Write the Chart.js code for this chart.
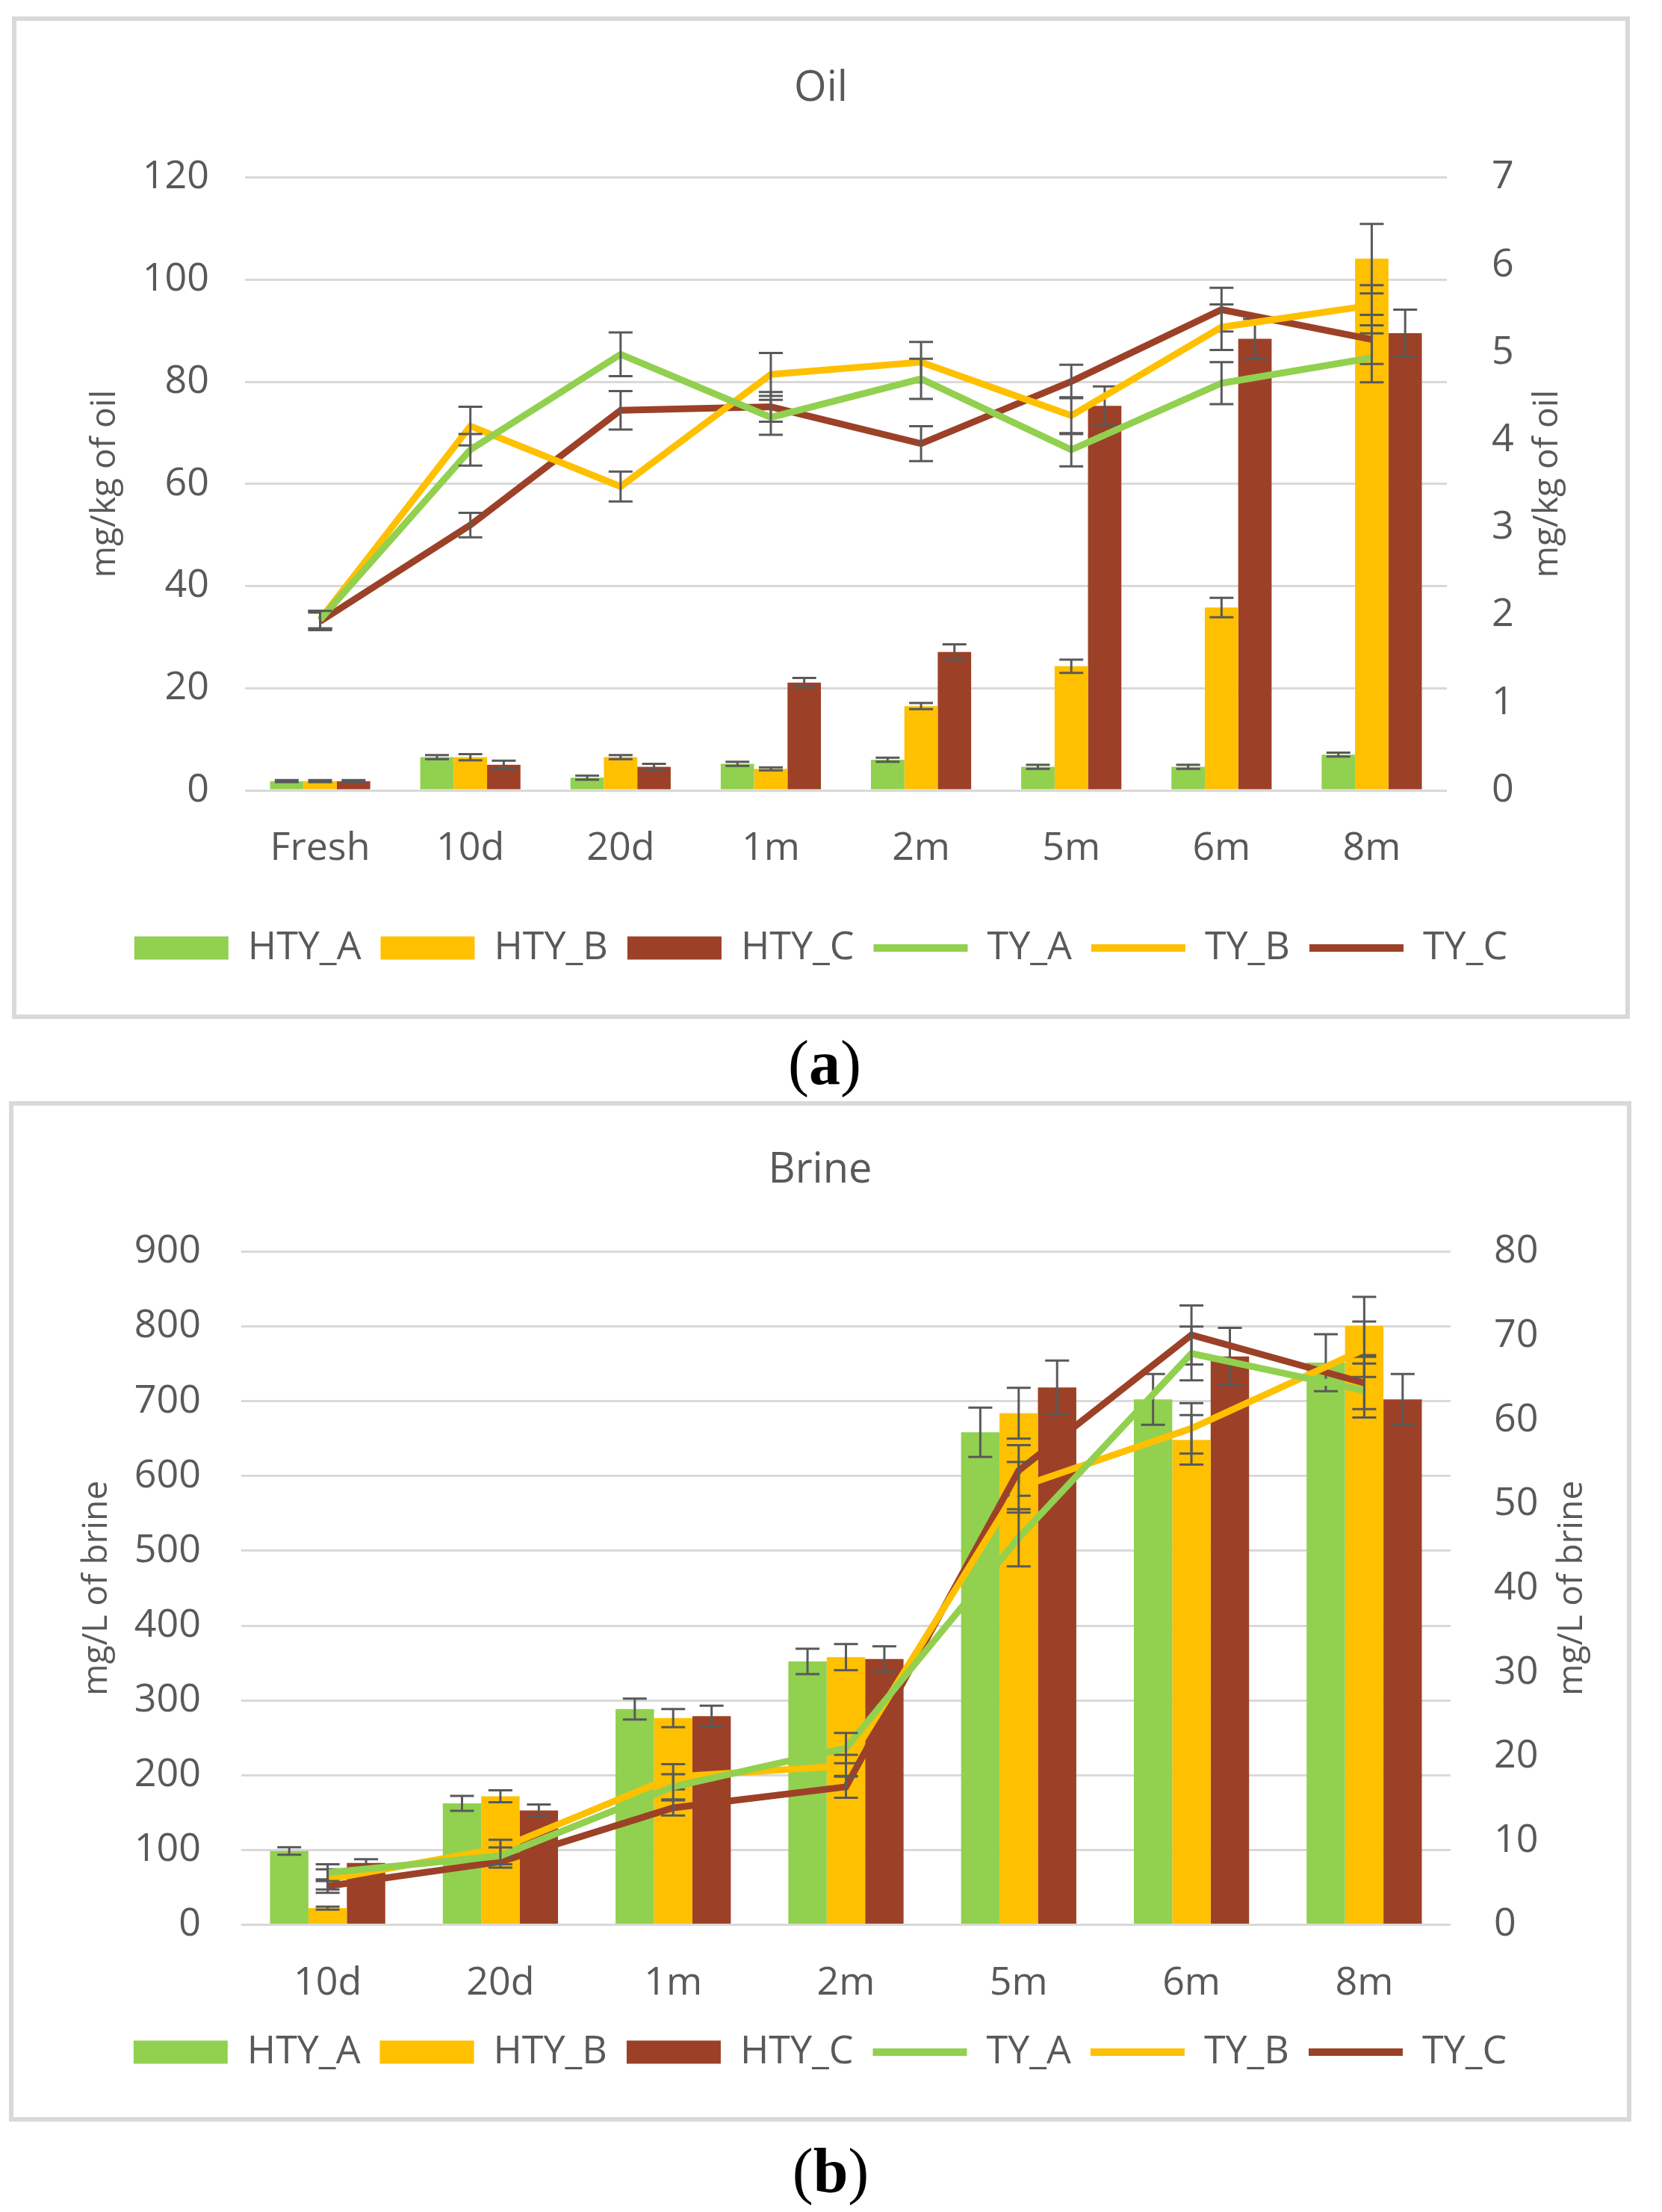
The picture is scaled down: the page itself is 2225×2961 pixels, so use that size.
<!DOCTYPE html>
<html><head><meta charset="utf-8">
<script src="https://cdn.jsdelivr.net/npm/chart.js@4.4.1/dist/chart.umd.min.js"></script>
<style>
html,body{margin:0;padding:0;background:#fff;}
body{width:2225px;height:2961px;position:relative;overflow:hidden;}
.panel{position:absolute;box-sizing:border-box;border:6px solid #d9d9d9;background:#fff;}
.panel canvas{display:block;}
.cap{position:absolute;font-family:'Liberation Serif','Times New Roman',serif;font-size:84px;line-height:1;color:#000;transform:translate(-50%,-50%);white-space:nowrap;}
.cap b{font-weight:bold;}
</style></head>
<body>
<div class="panel" style="left:16px;top:22px;width:2166px;height:1342px;"><canvas id="oil" width="2154" height="1330"></canvas></div>
<div class="cap" style="left:1104px;top:1423px;">(<b>a</b>)</div>
<div class="panel" style="left:12px;top:1474px;width:2172px;height:1366px;"><canvas id="brine" width="2160" height="1354"></canvas></div>
<div class="cap" style="left:1112px;top:2906px;">(<b>b</b>)</div>
<script>
// ---------------- DATA ----------------
const seriesNames = ['HTY_A', 'HTY_B', 'HTY_C', 'TY_A', 'TY_B', 'TY_C'];

// Oil (a)
const oilCategories = ['Fresh', '10d', '20d', '1m', '2m', '5m', '6m', '8m'];
const oilHTY_A = [1.8, 6.5, 2.5, 5.2, 6.0, 4.6, 4.6, 7.0];
const oilHTY_B = [1.8, 6.5, 6.5, 4.2, 16.5, 24.3, 35.8, 104.1];
const oilHTY_C = [1.8, 5.0, 4.6, 21.1, 27.1, 75.3, 88.4, 89.5];
const oilHTY_A_err = [0.2, 0.4, 0.4, 0.4, 0.4, 0.4, 0.4, 0.4];
const oilHTY_B_err = [0.2, 0.6, 0.4, 0.3, 0.6, 1.3, 1.9, 6.8];
const oilHTY_C_err = [0.2, 0.8, 0.6, 0.9, 1.5, 3.8, 3.9, 4.6];
const oilTY_A = [1.95, 3.89, 4.98, 4.26, 4.70, 3.89, 4.65, 4.94];
const oilTY_B = [1.95, 4.16, 3.47, 4.75, 4.89, 4.28, 5.29, 5.54];
const oilTY_C = [1.93, 3.03, 4.34, 4.38, 3.96, 4.67, 5.49, 5.15];
const oilTY_A_err = [0.1, 0.18, 0.25, 0.2, 0.23, 0.19, 0.24, 0.28];
const oilTY_B_err = [0.1, 0.22, 0.17, 0.245, 0.23, 0.21, 0.26, 0.23];
const oilTY_C_err = [0.1, 0.14, 0.22, 0.17, 0.2, 0.19, 0.25, 0.28];
const oilLeftTicks = {min: 0, max: 120, step: 20};
const oilRightTicks = {min: 0, max: 7, step: 1};

// Brine (b)
const brineCategories = ['10d', '20d', '1m', '2m', '5m', '6m', '8m'];
const brineHTY_A = [98.7, 162.4, 288.5, 352.2, 658.6, 702.5, 751.6];
const brineHTY_B = [22.3, 172.0, 276.4, 358.0, 684.0, 648.4, 800.6];
const brineHTY_C = [82.8, 152.9, 279.0, 355.4, 718.5, 760.0, 702.5];
const brineHTY_A_err = [5, 10, 14, 17, 33, 34, 38];
const brineHTY_B_err = [2, 8, 12, 17.5, 34, 33, 39];
const brineHTY_C_err = [5, 8, 14, 17, 36, 38, 34];
const brineTY_A = [6.2, 8.2, 16.4, 21.0, 46.0, 67.9, 63.5];
const brineTY_B = [5.4, 9.1, 17.6, 18.9, 52.0, 59.0, 68.4];
const brineTY_C = [4.6, 7.5, 13.9, 16.4, 54.0, 70.1, 64.4];
const brineTY_A_err = [1.0, 1.0, 1.5, 1.8, 3.4, 3.2, 3.2];
const brineTY_B_err = [1.2, 1.0, 1.5, 1.3, 3.0, 3.0, 3.3];
const brineTY_C_err = [0.8, 0.7, 0.9, 1.3, 3.0, 3.5, 3.1];
const brineLeftTicks = {min: 0, max: 900, step: 100};
const brineRightTicks = {min: 0, max: 80, step: 10};

// ---------------- STYLE ----------------
const GREEN = '#92D050', GOLD = '#FFC000', BROWN = '#9C4127';
const TXT = '#595959', GRID = '#D9D9D9', ERR = '#595959';
Chart.defaults.font.family = "'Open Sans', 'Noto Sans', sans-serif";
Chart.defaults.color = TXT;

const errorBarPlugin = {
  id: 'errorBars',
  afterDatasetDraw(chart, args) {
    const ds = chart.data.datasets[args.index];
    const errs = ds.errorBars;
    if (!errs) return;
    const meta = args.meta;
    const scale = chart.scales[meta.yAxisID];
    const ctx = chart.ctx;
    ctx.save();
    ctx.strokeStyle = ERR;
    ctx.lineWidth = 3;
    meta.data.forEach((el, i) => {
      const v = ds.data[i], e = errs[i];
      if (v == null || e == null) return;
      const x = el.x;
      const yt = scale.getPixelForValue(v + e);
      const yb = scale.getPixelForValue(Math.max(v - e, scale.min));
      const c = 16;
      ctx.beginPath();
      ctx.moveTo(x, yt); ctx.lineTo(x, yb);
      ctx.moveTo(x - c, yt); ctx.lineTo(x + c, yt);
      ctx.moveTo(x - c, yb); ctx.lineTo(x + c, yb);
      ctx.stroke();
    });
    ctx.restore();
  }
};

const rightTitlePlugin = {
  id: 'rightTitle',
  afterDraw(chart, args, opts) {
    if (!opts || !opts.text) return;
    const s = chart.scales.y1, a = chart.chartArea, ctx = chart.ctx;
    ctx.save();
    ctx.translate(s.right - opts.offset, (a.top + a.bottom) / 2);
    ctx.rotate(-Math.PI / 2);
    ctx.textAlign = 'center';
    ctx.textBaseline = 'middle';
    ctx.fillStyle = TXT;
    ctx.font = opts.size + "px 'Open Sans', 'Noto Sans', sans-serif";
    ctx.fillText(opts.text, 0, 0);
    ctx.restore();
  }
};

function barDs(label, data, err, color) {
  return {type: 'bar', label, data, errorBars: err, backgroundColor: color, borderWidth: 0,
    yAxisID: 'y', order: 2, categoryPercentage: 0.667, barPercentage: 1.0};
}
function lineDs(label, data, err, color) {
  return {type: 'line', label, data, errorBars: err, borderColor: color, backgroundColor: color,
    borderWidth: 9, pointRadius: 0, pointHoverRadius: 0, tension: 0, fill: false,
    yAxisID: 'y1', order: 1, borderJoinStyle: 'miter'};
}

function makeChart(id, c) {
  const datasets = [
    barDs(seriesNames[0], c.hA, c.ehA, GREEN),
    barDs(seriesNames[1], c.hB, c.ehB, GOLD),
    barDs(seriesNames[2], c.hC, c.ehC, BROWN),
    lineDs(seriesNames[3], c.tA, c.etA, GREEN),
    lineDs(seriesNames[4], c.tB, c.etB, GOLD),
    lineDs(seriesNames[5], c.tC, c.etC, BROWN)
  ];
  return new Chart(document.getElementById(id), {
    type: 'bar',
    data: {labels: c.labels, datasets},
    options: {
      responsive: false, animation: false, devicePixelRatio: 1,
      layout: {padding: {left: 0, right: 0, top: 0, bottom: c.padBottom}},
      plugins: {
        tooltip: {enabled: false},
        title: {display: true, text: c.title, color: TXT, font: {size: 56, weight: 'normal'},
          padding: {top: c.titleTop, bottom: c.titleBottom}},
        legend: {
          position: 'bottom',
          labels: {
            usePointStyle: true, pointStyleWidth: 126, boxHeight: 31, padding: 26,
            color: TXT, font: {size: 52},
            sort: (a, b) => a.datasetIndex - b.datasetIndex,
            generateLabels: (chart) => chart.data.datasets.map((ds, i) => ({
              text: ds.label,
              fillStyle: ds.backgroundColor,
              strokeStyle: ds.type === 'line' ? ds.borderColor : ds.backgroundColor,
              lineWidth: ds.type === 'line' ? 10 : 0,
              pointStyle: ds.type === 'line' ? 'line' : 'rect',
              fontColor: TXT,
              hidden: false,
              datasetIndex: i
            }))
          }
        },
        rightTitle: {text: c.y1Title, offset: c.y1TitleOffset, size: 46}
      },
      scales: {
        x: {
          grid: {display: false}, border: {display: false},
          ticks: {padding: c.xPad, font: {size: 52}, color: TXT},
          afterFit: s => { s.height = c.xHeight; }
        },
        y: {
          position: 'left', min: c.left.min, max: c.left.max,
          ticks: {stepSize: c.left.step, padding: c.yPad, font: {size: 52}, color: TXT},
          grid: {color: GRID, lineWidth: 3, drawTicks: false},
          border: {display: false},
          title: {display: true, text: c.yTitle, color: TXT, font: {size: 46}, padding: {top: c.yTitlePad, bottom: 0}},
          afterFit: s => { s.width = c.yWidth; }
        },
        y1: {
          position: 'right', min: c.right.min, max: c.right.max,
          ticks: {stepSize: c.right.step, padding: c.y1Pad, font: {size: 52}, color: TXT},
          grid: {display: false},
          border: {display: false},
          afterFit: s => { s.width = c.y1Width; }
        }
      }
    },
    plugins: [errorBarPlugin, rightTitlePlugin]
  });
}

makeChart('oil', {
  title: 'Oil', labels: oilCategories,
  hA: oilHTY_A, hB: oilHTY_B, hC: oilHTY_C, ehA: oilHTY_A_err, ehB: oilHTY_B_err, ehC: oilHTY_C_err,
  tA: oilTY_A, tB: oilTY_B, tC: oilTY_C, etA: oilTY_A_err, etB: oilTY_B_err, etC: oilTY_C_err,
  left: oilLeftTicks, right: oilRightTicks,
  yTitle: 'mg/kg of oil', y1Title: 'mg/kg of oil',
  padBottom: 53, titleTop: 57.4, titleBottom: 84.9,
  xPad: 38.8, xHeight: 159, yWidth: 306, y1Width: 239, yPad: 48, y1Pad: 52,
  yTitlePad: 91.4, y1TitleOffset: 104
});

makeChart('brine', {
  title: 'Brine', labels: brineCategories,
  hA: brineHTY_A, hB: brineHTY_B, hC: brineHTY_C, ehA: brineHTY_A_err, ehB: brineHTY_B_err, ehC: brineHTY_C_err,
  tA: brineTY_A, tB: brineTY_B, tC: brineTY_C, etA: brineTY_A_err, etB: brineTY_B_err, etC: brineTY_C_err,
  left: brineLeftTicks, right: brineRightTicks,
  yTitle: 'mg/L of brine', y1Title: 'mg/L of brine',
  padBottom: 51, titleTop: 53.9, titleBottom: 74.4,
  xPad: 39.8, xHeight: 118.4, yWidth: 305, y1Width: 236, yPad: 54, y1Pad: 50,
  yTitlePad: 84.4, y1TitleOffset: 73
});
</script>
</body></html>
